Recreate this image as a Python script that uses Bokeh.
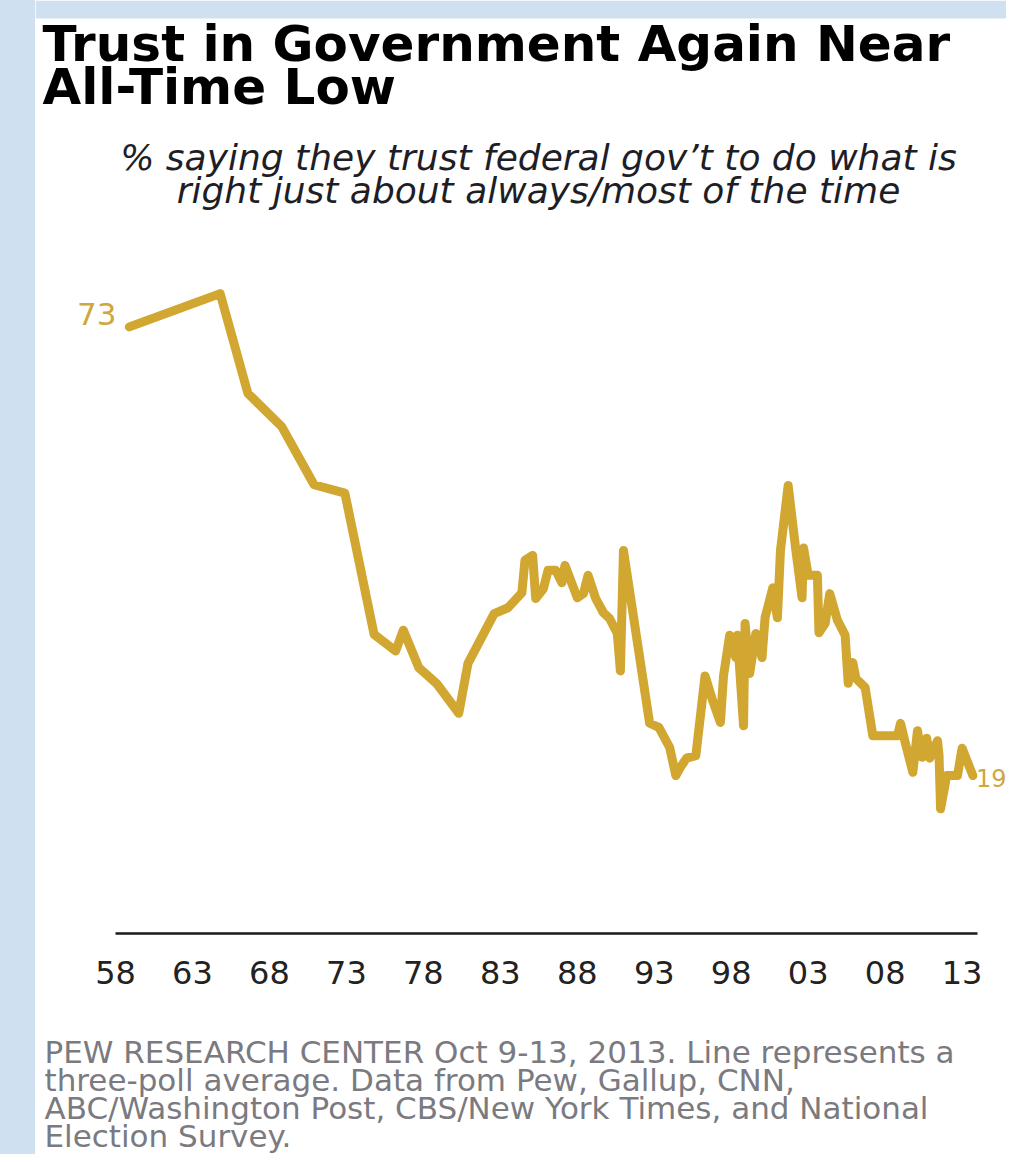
from bokeh.plotting import figure
from bokeh.models import Label, FixedTicker, Div, Range1d
from bokeh.layouts import column, row
from bokeh.embed import file_html
from bokeh.resources import INLINE

# ---- data ----
years = [1958.9, 1964.8, 1966.6, 1968.8, 1970.9, 1972.9, 1974.8, 1976.2, 1976.7, 1977.7,
         1978.9, 1980.3, 1980.9, 1982.6, 1983.5, 1984.4, 1984.6, 1985.1, 1985.3, 1985.8,
         1986.1, 1986.6, 1987.0, 1987.2, 1988.0, 1988.4, 1988.7, 1989.2, 1989.7, 1990.1,
         1990.6, 1990.8, 1991.0, 1992.7, 1993.3, 1994.0, 1994.4, 1994.7, 1995.1, 1995.7,
         1996.3, 1996.8, 1997.3, 1997.5, 1997.9, 1998.3, 1998.4, 1998.8, 1998.9, 1999.2,
         1999.6, 2000.0, 2000.2, 2000.7, 2001.0, 2001.2, 2001.7, 2002.2, 2002.6, 2002.7,
         2003.0, 2003.6, 2003.7, 2004.1, 2004.4, 2004.9, 2005.4, 2005.6, 2005.9, 2006.1,
         2006.7, 2007.2, 2008.8, 2009.0, 2009.3, 2009.8, 2010.1, 2010.4, 2010.7, 2010.9,
         2011.4, 2011.5, 2011.6, 2012.0, 2012.7, 2013.0, 2013.7]
trust = [73, 77, 65, 61, 54, 53, 36, 34, 36.5, 32,
         30, 26.5, 32.5, 38.5, 39.2, 41, 44.9, 45.5, 40.3, 41.5,
         43.7, 43.7, 42.2, 44.3, 40.4, 40.9, 43.1, 40.3, 38.6, 37.9,
         36.1, 31.6, 46.1, 25.3, 24.8, 22.4, 19, 20, 21.1, 21.4,
         31, 28, 25.4, 31, 35.9, 33.2, 35.9, 25, 37.3, 31.3,
         36.1, 33.2, 38, 41.6, 38, 46.1, 53.9, 46.1, 40.4, 46.4,
         43.1, 43.1, 36.2, 37.3, 40.9, 37.7, 35.9, 30.1, 32.6, 30.7,
         29.6, 23.8, 23.8, 25.3, 23, 19.4, 24.4, 21.2, 23.5, 21.1,
         23.2, 21.5, 15, 19, 19, 22.3, 19]

tick_years = [1958, 1963, 1968, 1973, 1978, 1983, 1988, 1993, 1998, 2003, 2008, 2013]
tick_labels = ["58", "63", "68", "73", "78", "83", "88", "93", "98", "03", "08", "13"]
axis_end_year = 2014

title_lines = ["Trust in Government Again Near", "All-Time Low"]
subtitle_lines = ["% saying they trust federal gov\u2019t to do what is",
                  "right just about always/most of the time"]
note_lines = ["PEW RESEARCH  CENTER Oct 9-13, 2013. Line represents a",
              "three-poll average. Data from Pew, Gallup, CNN,",
              "ABC/Washington Post, CBS/New York Times, and National",
              "Election Survey."]

GOLD = "#D1A732"
LABEL_GOLD = "#CFA73E"
BLUE = "#CFE0F1"
FONT = "DejaVu Sans"

W = 971            # width of the white panel
STRIP_TOP = 18     # light-blue band above the panel
STRIP_LEFT = 35    # light-blue band left of the panel
H_TOP, H_CHART, H_NOTE = 250, 750, 154
AXIS_LEFT_PX = 80  # axis start (1958) measured from panel left
AXIS_W_PX = 862    # axis length in px
Y_SCALE = 8.31     # px per percentage point
FRAME_H = 683


def pixel_fig(h):
    f = figure(width=W, height=h, output_backend="svg", toolbar_location=None,
               x_range=Range1d(0, W), y_range=Range1d(h, 0),
               x_axis_location=None, y_axis_location=None,
               min_border=0, min_border_left=0, min_border_right=0,
               min_border_top=0, min_border_bottom=0)
    f.background_fill_color = "white"
    f.border_fill_color = "white"
    f.outline_line_color = None
    f.xgrid.visible = False
    f.ygrid.visible = False
    return f


# ---- title block (includes the blue band on top) ----
ptitle = pixel_fig(H_TOP)
ptitle.quad(left=0, right=W, top=0, bottom=STRIP_TOP, fill_color=BLUE, line_color=None)
for txt, yy in zip(title_lines, [43, 86]):
    ptitle.add_layout(Label(x=7, y=yy, text=txt, text_align="left", text_baseline="alphabetic",
                            text_font=FONT, text_font_style="bold", text_font_size="50px",
                            text_color="#000000"))
for txt, yy in zip(subtitle_lines, [157, 190]):
    ptitle.add_layout(Label(x=503, y=yy, text=txt, text_align="center", text_baseline="alphabetic",
                            text_font=FONT, text_font_style="italic", text_font_size="36px",
                            text_color="#1e1e26"))

# ---- chart ----
px_per_year = AXIS_W_PX / (axis_end_year - tick_years[0])
x_start = tick_years[0] - AXIS_LEFT_PX / px_per_year
x_end = tick_years[0] + (W - AXIS_LEFT_PX) / px_per_year

p = figure(width=W, height=H_CHART, output_backend="svg", toolbar_location=None,
           x_range=Range1d(x_start, x_end), y_range=Range1d(0, FRAME_H / Y_SCALE),
           y_axis_location=None,
           min_border_left=0, min_border_right=0, min_border_top=0,
           min_border_bottom=H_CHART - FRAME_H)
p.background_fill_color = "white"
p.border_fill_color = "white"
p.outline_line_color = None
p.xgrid.visible = False
p.ygrid.visible = False

ax = p.xaxis[0]
ax.bounds = (tick_years[0], axis_end_year)
ax.ticker = FixedTicker(ticks=tick_years)
ax.major_label_overrides = {y: l for y, l in zip(tick_years, tick_labels)}
ax.axis_line_color = "#1a1a1a"
ax.axis_line_width = 2.5
ax.major_tick_line_color = None
ax.minor_tick_line_color = None
ax.major_tick_out = 0
ax.major_tick_in = 0
ax.major_label_standoff = 27
ax.major_label_text_font = FONT
ax.major_label_text_font_size = "32px"
ax.major_label_text_color = "#222222"

p.line(years, trust, line_color=GOLD, line_width=9, line_join="round", line_cap="round")

p.add_layout(Label(x=years[0], y=trust[0], text=f"{trust[0]:.0f}", x_offset=-13, y_offset=13,
                   text_align="right", text_baseline="middle", text_font=FONT,
                   text_font_size="31px", text_color=LABEL_GOLD))
p.add_layout(Label(x=years[-1], y=trust[-1], text=f"{trust[-1]:.0f}", x_offset=3, y_offset=-2,
                   text_align="left", text_baseline="middle", text_font=FONT,
                   text_font_size="24px", text_color=LABEL_GOLD))

# ---- footnote ----
pnote = pixel_fig(H_NOTE)
for txt, yy in zip(note_lines, [51, 79, 107, 135]):
    pnote.add_layout(Label(x=9, y=yy, text=txt, text_align="left", text_baseline="alphabetic",
                           text_font=FONT, text_font_size="31px", text_color="#7a7a80"))

left_strip = Div(text="", width=STRIP_LEFT, height=H_TOP + H_CHART + H_NOTE, margin=0,
                 styles={"background-color": BLUE})
layout = row(left_strip, column(ptitle, p, pnote, spacing=0), spacing=0)

open("out.html", "w").write(file_html(layout, INLINE))
